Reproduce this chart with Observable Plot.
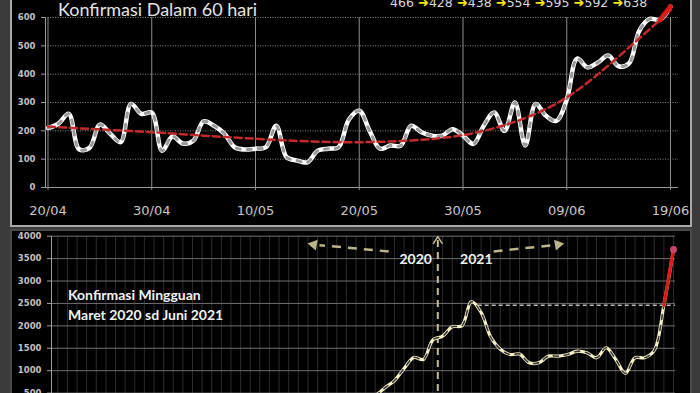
<!DOCTYPE html>
<html><head><meta charset="utf-8">
<script src="https://cdn.jsdelivr.net/npm/d3@7"></script>
<script src="https://cdn.jsdelivr.net/npm/@observablehq/plot@0.6"></script>
<style>
html,body{margin:0;padding:0;background:#3b3b3b;width:700px;height:393px;overflow:hidden;}
body{position:relative;font-family:Lato,"DejaVu Sans",sans-serif;}
.panel{position:absolute;background:#000;box-sizing:border-box;}
#p1{left:10px;top:-4px;width:682px;height:231px;border:2px solid #a8a8a8;}
#p2{left:10px;top:229px;width:682px;height:200px;border:2px solid #4a4a4a;}
.svgbox{position:absolute;left:0;}
#title1{position:absolute;left:58px;top:-2px;font-size:18px;color:#e4e4e4;white-space:nowrap;}
#lastweek{position:absolute;left:390px;top:-5px;font-size:12.5px;color:#d8d8d8;white-space:nowrap;font-family:"DejaVu Sans",sans-serif;}
#lastweek .ar{color:#f2e21a;font-size:13px;}
#title2{position:absolute;left:68px;top:285px;font-size:14px;font-weight:bold;color:#f2f2f2;line-height:20px;white-space:nowrap;}
</style></head>
<body>
<div class="panel" id="p1"></div>
<div class="panel" id="p2"></div>
<div class="svgbox" id="c1" style="top:0"></div>
<div class="svgbox" id="c2" style="top:229px"></div>
<div id="title1">Konfirmasi Dalam 60 hari</div>
<div id="lastweek"></div>
<div id="title2">Konfirmasi Mingguan<br>Maret 2020 sd Juni 2021</div>
<script>
// ---------- data: daily confirmations, 20/04 .. 19/06 ----------
const dailyStart = "2021-04-20";
const dailyValues = [210,225,260,135,140,222,190,160,295,260,
  264,130,180,155,165,233,218,190,142,134,
  137,142,218,107,95,89,130,137,142,240,
  271,200,137,148,148,218,195,183,183,206,
  183,154,218,265,200,300,148,295,253,235,
  310,455,424,441,466,428,438,554,595,592,638];
const trendDays = [0,5,10,15,20,25,30,35,40,45,50,55,60];
const trendValues = [215,205,195,183,172,163,160,166,185,232,318,462,625];
const xTickDates = ["2021-04-20","2021-04-30","2021-05-10","2021-05-20","2021-05-30","2021-06-09","2021-06-19"];
const xTickLabels = ["20/04","30/04","10/05","20/05","30/05","09/06","19/06"];
const yTicksDaily = [0,100,200,300,400,500,600];
const lastWeek = [466,428,438,554,595,592,638];

// ---------- data: weekly confirmations, March 2020 .. June 2021 ----------
const weeklyValues = [1,3,5,10,10,15,15,20,20,25,30,30,35,40,45,50,60,70,60,70,80,90,100,120,140,150,180,200,220,270,300,330,400,450,
  620,780,1050,1295,1250,1690,1770,1980,2000,2540,2300,1750,1480,1360,1370,1176,1176,1324,1324,1360,1435,1399,1288,1511,1250,940,1288,1288,1451,2460,3705];
const yTicksWeekly = [500,1000,1500,2000,2500,3000,3500,4000];
const yearLabels = ["2020","2021"];
const yearLabelIdx = [37.2,43.5];
const yearBoundaryIdx = 39.5;
const previousPeak = 2460;

// ---------- top chart ----------
const day = 864e5;
const t0 = new Date(dailyStart + "T00:00Z");
const dailyRows = dailyValues.map((v,i)=>({date:new Date(+t0 + i*day), v}));
const trendRows = trendDays.map((d,i)=>({date:new Date(+t0 + d*day), v:trendValues[i]}));
const tickDates = xTickDates.map(s=>new Date(s+"T00:00Z"));
const tickLab = new Map(tickDates.map((d,i)=>[+d, xTickLabels[i]]));

const chartTop = Plot.plot({
  width:700, height:226,
  marginLeft:45, marginRight:22, marginTop:17, marginBottom:39,
  style:{background:"transparent", color:"#c8c8c8", overflow:"visible"},
  x:{type:"utc", domain:[tickDates[0], tickDates[tickDates.length-1]], range:[47.5,670], label:null},
  y:{domain:[0,600], range:[187,17], label:null},
  marks:[
    Plot.ruleY(yTicksDaily.filter(d=>d>0), {stroke:"#8a8a8a", strokeWidth:1, strokeDasharray:"1,1.5"}),
    Plot.ruleX(tickDates, {y1:0, y2:600, stroke:"#8c8c8c", strokeWidth:1}),
    Plot.ruleY([0], {stroke:"#9a9a9a", strokeWidth:1.2}),
    Plot.frame({anchor:"left", stroke:"#9a9a9a"}),
    Plot.axisX(tickDates, {tickFormat:d=>tickLab.get(+d), tickSize:3, tickPadding:15, fontSize:13, fontFamily:"DejaVu Sans", fill:"#c8c8c8", stroke:"#8c8c8c", label:null}),
    Plot.axisY(yTicksDaily, {tickFormat:d=>String(d), tickSize:4, tickPadding:6, fontSize:8.5, fontFamily:"DejaVu Sans", fontWeight:"bold", fill:"#c0c0c0", stroke:"#9a9a9a", label:null}),
    Plot.line(dailyRows, {x:"date", y:"v", curve:"catmull-rom", stroke:"#ffffff", strokeWidth:4.5}),
    Plot.line(dailyRows, {x:"date", y:"v", curve:"catmull-rom", stroke:"#9a9a9a", strokeWidth:3, strokeDasharray:"4,7"}),
    Plot.line(dailyRows.slice(-2), {x:"date", y:"v", stroke:"#e41414", strokeWidth:5}),
    Plot.line(trendRows, {x:"date", y:"v", curve:"natural", stroke:"#c42a2a", strokeWidth:2.5, strokeDasharray:"7,4"})
  ]
});
document.getElementById("c1").appendChild(chartTop);

document.getElementById("lastweek").innerHTML =
  lastWeek.map(v=>String(v)).join('<span class="ar"> ➜</span>');

// ---------- bottom chart ----------
const n = weeklyValues.length;
const weekRows = weeklyValues.map((v,i)=>({i, v}));
const arrowLinks = [
  {x1:34.4, y1:3660, x2:27.2, y2:3800},
  {x1:45.3, y1:3660, x2:51.5, y2:3800}
];
const arrowHeads = [
  {x:26.6, y:3812, rotate:-80},
  {x:52.0, y:3812, rotate:80}
];

const chartBottom = Plot.plot({
  width:700, height:200,
  marginLeft:51, marginRight:25, marginTop:7, marginBottom:14,
  style:{background:"transparent", color:"#c8c8c8", overflow:"visible"},
  x:{type:"linear", domain:[0,n-1], range:[57.3,673], label:null, axis:null},
  y:{domain:[0,4000], range:[186,6.7], label:null},
  marks:[
    Plot.ruleX(d3.range(n), {stroke:"#2b2b2b", strokeWidth:1}),
    Plot.ruleY(yTicksWeekly, {stroke:"#6e6e6e", strokeWidth:1}),
    Plot.frame({anchor:"left", stroke:"#a0a0a0"}),
    Plot.axisY(yTicksWeekly, {tickFormat:d=>String(d), tickSize:4, tickPadding:6, fontSize:8.5, fontFamily:"DejaVu Sans", fontWeight:"bold", fill:"#c0c0c0", stroke:"#a0a0a0", label:null}),
    Plot.ruleY([previousPeak], {x1:43.7, x2:n-1+0.2, stroke:"#b8b8b8", strokeWidth:1.5, strokeDasharray:"4,3"}),
    Plot.ruleX([yearBoundaryIdx], {y1:0, y2:3960, stroke:"#c4bc94", strokeWidth:2, strokeDasharray:"7,5"}),
    Plot.line([{x:yearBoundaryIdx-0.45,y:3840},{x:yearBoundaryIdx,y:3990},{x:yearBoundaryIdx+0.45,y:3840}], {x:"x", y:"y", stroke:"#c4bc94", strokeWidth:1.5}),
    Plot.link(arrowLinks, {x1:"x1", y1:"y1", x2:"x2", y2:"y2", stroke:"#b9b48a", strokeWidth:2.5, strokeDasharray:"9,7"}),
    Plot.dot(arrowHeads, {x:"x", y:"y", rotate:"rotate", symbol:"triangle", r:4, fill:"#b9b48a", stroke:null}),
    Plot.text(yearLabels, {x:(d,i)=>yearLabelIdx[i], y:3480, text:d=>d, fontSize:14, fontWeight:"bold", fill:"#f0f0f0", fontFamily:"Lato"}),
    Plot.line(weekRows, {x:"i", y:"v", curve:"catmull-rom", stroke:"#f4f0c6", strokeWidth:3.2}),
    Plot.line(weekRows, {x:"i", y:"v", curve:"catmull-rom", stroke:"#3a3a3a", strokeWidth:1.6, strokeDasharray:"5,6"}),
    Plot.line(weekRows.slice(-2), {x:"i", y:"v", stroke:"#d81c1c", strokeWidth:3.5}),
    Plot.dot(weekRows.slice(-1), {x:"i", y:"v", r:3.5, fill:"#c8446a", stroke:null})
  ]
});
document.getElementById("c2").appendChild(chartBottom);
</script>
</body></html>
